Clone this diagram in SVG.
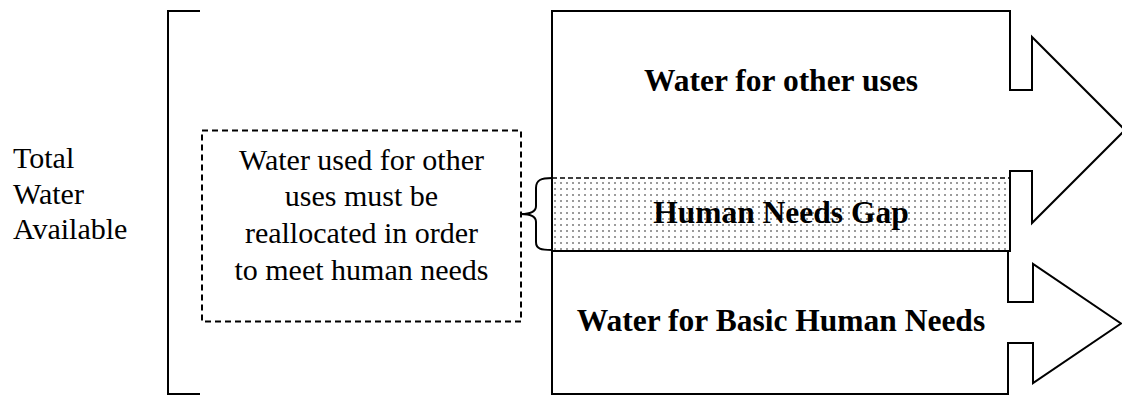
<svg xmlns="http://www.w3.org/2000/svg" width="1122" height="396" viewBox="0 0 1122 396">
<style>
.reg{font-family:"Liberation Serif","Times New Roman",serif;font-size:30px;fill:#000}
.bold{font-family:"Liberation Serif","Times New Roman",serif;font-size:31.5px;font-weight:bold;fill:#000}
.ln{fill:none;stroke:#000;stroke-width:2}
.arrow{fill:#fff;stroke:#000;stroke-width:2;stroke-linejoin:miter}
.dash{fill:none;stroke:#000;stroke-width:2;stroke-dasharray:6 4}
</style>
<defs>
<pattern id="dots" x="0" y="0" width="6" height="6" patternUnits="userSpaceOnUse">
<rect width="6" height="6" fill="#fff"/>
<circle cx="3" cy="3" r="1" fill="#7a7a7a"/>
</pattern>
</defs>
<rect width="1122" height="396" fill="#fff"/>
<g id="total-water">
<path class="ln" d="M200,11 H168 V394 H200"/>
<text class="reg" x="13" y="168">Total</text>
<text class="reg" x="13" y="204">Water</text>
<text class="reg" x="13" y="239">Available</text>
</g>
<g id="other-uses">
<path class="arrow" d="M552,11 H1010 V90 H1032 V37 L1125,130 L1032,223 V171 H1010 V251 H552 Z"/>
<text class="bold" x="781" y="91" text-anchor="middle">Water for other uses</text>
</g>
<g id="gap">
<rect x="552" y="178" width="458" height="73" fill="url(#dots)"/>
<line x1="552" y1="178" x2="1010" y2="178" stroke="#000" stroke-width="1.5" stroke-dasharray="5 3"/>
<line x1="552" y1="251" x2="1010" y2="251" stroke="#000" stroke-width="2"/>
<line x1="552" y1="178" x2="552" y2="251" stroke="#000" stroke-width="2"/>
<line x1="1010" y1="171" x2="1010" y2="251" stroke="#000" stroke-width="2"/>
<text class="bold" x="781" y="223" text-anchor="middle">Human Needs Gap</text>
</g>
<g id="basic-needs">
<path class="arrow" d="M552,251 H1008 V302 H1033 V264 L1121,323.5 L1033,383 V343 H1008 V394 H552 Z"/>
<text class="bold" x="781" y="331" text-anchor="middle">Water for Basic Human Needs</text>
</g>
<g id="reallocate-note">
<rect class="dash" x="202" y="130.5" width="319" height="191"/>
<text class="reg" x="361.5" y="170" text-anchor="middle">Water used for other</text>
<text class="reg" x="361.5" y="206" text-anchor="middle">uses must be</text>
<text class="reg" x="361.5" y="243" text-anchor="middle">reallocated in order</text>
<text class="reg" x="361.5" y="280" text-anchor="middle">to meet human needs</text>
</g>
<g id="connectors">
<path class="ln" d="M552,178 C541,178 536,180 536,188 V206 C536,212 530,214 521,214 C530,214 536,216 536,222 V242 C536,249 541,250 552,250"/>
</g>
</svg>
